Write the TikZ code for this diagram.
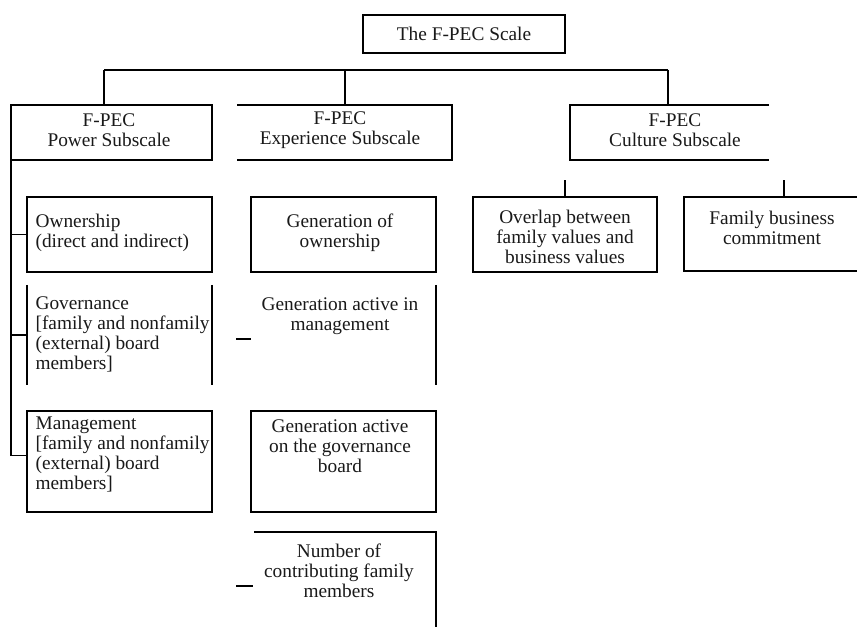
\documentclass[tikz,border=0pt]{standalone}
\usepackage{fontspec}
\setmainfont{Liberation Serif}
\usetikzlibrary{fit}
\begin{document}
\begin{tikzpicture}[x=0.75pt,y=-0.75pt,
  line width=0.9pt,
  area/.style={inner sep=0pt, outer sep=0pt},
  framed/.style={area, draw},
  txt/.style={inner sep=0pt, align=center, text=black!90,
    font=\fontsize{14.5}{15}\selectfont},
  ltxt/.style={txt, align=left, anchor=west}]
\useasboundingbox (0,0) rectangle (857,627);
\clip (0,0) rectangle (857,627);

% root of the scale
\node[framed, fit={(363,15) (565,53)}] (scale) {};
\node[txt] (scale-t) at (464,34) {The F-PEC Scale};

% the three subscales
\node[framed, fit={(11,105) (212,160)}] (power) {};
\node[txt] (power-t) at (109,130) {F-PEC\\Power Subscale};

\node[area, fit={(237,105) (452,160)}] (exper) {};
\draw (exper.north west) -- (exper.north east) -- (exper.south east) -- (exper.south west);
\node[txt] (exper-t) at (340,130) {F-PEC\\Experience Subscale};

\node[area, fit={(570,105) (769,160)}] (cult) {};
\draw (cult.north east) -- (cult.north west) -- (cult.south west) -- (cult.south east);
\node[txt] (cult-t) at (675,130) {F-PEC\\Culture Subscale};

% bus from the root level down to the subscales
\coordinate (busL) at (104,70);
\coordinate (busM) at (345,70);
\coordinate (busR) at (668,70);
\draw (busL) -- (busR);
\draw (busL) -- (busL |- power.north);
\draw (busM) -- (busM |- exper.north);
\draw (busR) -- (busR |- cult.north);

% power subscale items
\node[framed, fit={(27,197) (212,272)}] (own) {};
\node[ltxt] (own-t) at (35,233) {Ownership\\(direct and indirect)};

\node[area, fit={(27,285) (212,385)}] (gov) {};
\draw (gov.north west) -- (gov.south west) (gov.north east) -- (gov.south east);
\node[ltxt] (gov-t) at (35,334) {Governance\\{}[family and nonfamily\\(external) board\\members]};

\node[framed, fit={(27,411) (212,512)}] (mgmt) {};
\node[ltxt] (mgmt-t) at (35,454) {Management\\{}[family and nonfamily\\(external) board\\members]};

\coordinate (mgmt-in) at ([yshift=4.5pt]mgmt.west);
\draw (power.south west) |- (mgmt-in);
\draw (power.south west |- own.west) -- (own.west);
\draw (power.south west |- gov.west) -- (gov.west);

% experience subscale items
\node[framed, fit={(251,197) (436,272)}] (genown) {};
\node[txt] (genown-t) at (340,233) {Generation of\\ownership};

\node[area, fit={(251,285) (436,385)}] (genmgmt) {};
\draw (genmgmt.north east) -- (genmgmt.south east);
\coordinate (genmgmt-in) at ([yshift=-3pt]genmgmt.west);
\draw ([xshift=-11.25pt]genmgmt-in) -- (genmgmt-in);
\node[txt] (genmgmt-t) at (340,316) {Generation active in\\management};

\node[framed, fit={(251,411) (436,512)}] (genboard) {};
\node[txt] (genboard-t) at (340,446) {Generation active\\on the governance\\board};

\node[area, fit={(254,532) (436,640)}] (members) {};
\draw (members.south east) -- (members.north east) -- (members.north west);
\draw ([xshift=-13.5pt]members.west) -- ([xshift=-0.75pt]members.west);
\node[txt] (members-t) at (339,571) {Number of\\contributing family\\members};

% culture subscale items
\node[framed, fit={(473,197) (657,272)}] (overlap) {};
\node[txt] (overlap-t) at (565,237) {Overlap between\\family values and\\business values};
\draw (overlap.north) -- ++(0,-17);

\node[framed, fit={(684,197) (862,271)}] (commit) {};
\node[txt] (commit-t) at (772,228) {Family business\\commitment};
\draw ([xshift=8.25pt]commit.north) -- ++(0,-17);
\end{tikzpicture}
\end{document}
